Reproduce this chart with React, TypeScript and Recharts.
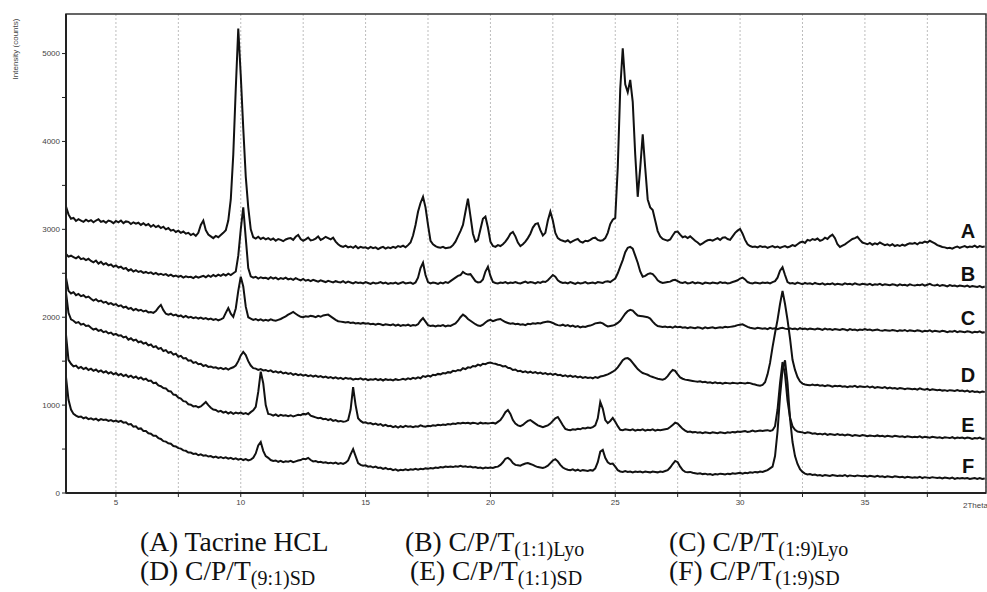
import React from 'react';
import { LineChart, Line, XAxis, YAxis, CartesianGrid, ReferenceArea } from 'recharts';

// 2Theta sampling grid: 3.0 .. 39.8 step 0.1
const THETA_START = 3.0;
const THETA_STEP = 0.1;

const xTicks = [5, 7.5, 10, 12.5, 15, 17.5, 20, 22.5, 25, 27.5, 30, 32.5, 35, 37.5];
const yTicks = [0, 500, 1000, 1500, 2000, 2500, 3000, 3500, 4000, 4500, 5000];

const traceLabels = ['A', 'B', 'C', 'D', 'E', 'F'];

// (A) Tacrine HCL
const seriesA = [
  3260, 3170, 3120, 3130, 3095, 3115, 3100, 3085, 3110, 3090,
  3105, 3080, 3100, 3115, 3085, 3095, 3075, 3100, 3090, 3070,
  3095, 3080, 3100, 3070, 3090, 3085, 3060, 3080, 3065, 3075,
  3050, 3070, 3045, 3060, 3030, 3050, 3025, 3040, 3015, 3030,
  3000, 3015, 2985, 2995, 2970, 2985, 2960, 2975, 2950, 2960,
  2935, 2950, 2925, 2960, 3050, 3100, 2990, 2940, 2920, 2900,
  2925, 2910, 2935, 2960, 2990, 3100, 3340, 3850, 4600, 5285,
  4750, 4150, 3600, 3250, 3000, 2910, 2895, 2915, 2890, 2905,
  2885, 2900, 2880, 2895, 2870, 2890, 2880, 2865, 2885, 2895,
  2900, 2880, 2915, 2935, 2890, 2870, 2885, 2905, 2875, 2880,
  2895, 2920, 2880, 2895, 2915, 2900, 2885, 2905, 2860, 2830,
  2810, 2800, 2815, 2795, 2805, 2790, 2810, 2785, 2800, 2790,
  2795, 2780, 2800, 2785, 2795, 2775, 2790, 2800, 2780, 2795,
  2785, 2800, 2790, 2810, 2800, 2815, 2795, 2820, 2850, 2930,
  3050, 3200, 3300, 3370, 3250, 3050, 2870, 2830, 2810, 2795,
  2790, 2800, 2785, 2790, 2795, 2820, 2860, 2920, 2980, 3050,
  3200, 3350, 3150, 2950, 2860, 2880, 3000, 3120, 3145, 3020,
  2860, 2810, 2800, 2820, 2810, 2830, 2860, 2900, 2950, 2970,
  2920, 2850, 2810, 2830, 2860, 2900, 2950, 3020, 3060, 3070,
  2990, 2930, 2960, 3100, 3200, 3100, 2960, 2900, 2880, 2870,
  2860, 2875, 2850, 2865, 2880, 2890, 2860, 2850, 2870, 2865,
  2880, 2900, 2905, 2880, 2870, 2875, 2900, 2960, 3060, 3110,
  3130, 3700, 4600, 5060, 4650, 4560, 4700, 4450, 3850, 3370,
  3700, 4080, 3700, 3340, 3250, 3220, 3100, 2980, 2920, 2890,
  2880, 2870, 2885, 2930, 2970, 2975, 2940, 2910, 2920, 2900,
  2920, 2895, 2870, 2850, 2825, 2840, 2860, 2875, 2880, 2870,
  2885, 2900, 2880, 2905, 2910, 2890, 2880, 2920, 2960, 2985,
  3005, 2950, 2880, 2830, 2810, 2800, 2805, 2795, 2810, 2800,
  2805, 2790, 2800, 2810, 2795, 2805, 2790, 2800, 2810, 2795,
  2805, 2820, 2810, 2830, 2850, 2860, 2845, 2880, 2870, 2890,
  2880, 2895, 2870, 2880, 2905, 2890, 2920, 2940, 2900, 2830,
  2800, 2815, 2830, 2850, 2870, 2890, 2900, 2915, 2880, 2850,
  2840, 2830, 2845, 2825, 2840, 2830, 2850, 2835, 2820, 2830,
  2815, 2830, 2810, 2820, 2810, 2825, 2815, 2830, 2840, 2835,
  2845, 2830, 2850, 2845, 2860, 2850, 2870, 2855, 2840, 2820,
  2810, 2800, 2795, 2785, 2790, 2780, 2795, 2805, 2790, 2800,
  2810, 2795, 2805, 2800, 2815, 2795, 2810, 2800, 2805,
];

// (B) C/P/T (1:1) Lyo
const seriesB = [
  2720, 2690, 2700, 2685, 2670, 2690, 2660, 2670, 2650, 2665,
  2640, 2625, 2645, 2610, 2630, 2600, 2615, 2590, 2600, 2575,
  2590, 2565, 2575, 2550, 2560, 2530, 2545, 2520, 2535, 2515,
  2525, 2505, 2515, 2500, 2510, 2490, 2505, 2485, 2495, 2480,
  2490, 2470, 2485, 2465, 2475, 2460, 2470, 2450, 2465, 2455,
  2460, 2445, 2465, 2450, 2460, 2470, 2455, 2475, 2460, 2480,
  2465, 2485, 2470, 2490, 2475, 2495, 2480, 2500, 2520, 2700,
  3000, 3250, 2900, 2560, 2465, 2450, 2460, 2440, 2455, 2445,
  2450, 2435, 2455, 2440, 2450, 2430, 2445, 2435, 2450, 2430,
  2440, 2425, 2445, 2430, 2420, 2435, 2415, 2425, 2410, 2425,
  2415, 2405, 2420, 2410, 2400, 2415, 2405, 2395, 2410, 2400,
  2395, 2410, 2390, 2405, 2395, 2385, 2400, 2390, 2395, 2385,
  2400, 2390, 2380, 2395, 2385, 2390, 2400, 2385, 2395, 2380,
  2390, 2385, 2395, 2380, 2390, 2400, 2385, 2390, 2395, 2380,
  2395, 2450, 2560, 2620, 2480, 2400, 2385, 2395, 2390, 2380,
  2395, 2385, 2400, 2390, 2410, 2430, 2450, 2470, 2480, 2515,
  2495, 2485, 2490, 2450, 2410, 2395, 2400, 2430, 2520, 2575,
  2470, 2400, 2390, 2385, 2395, 2390, 2400, 2385, 2395, 2390,
  2400, 2390, 2385, 2395, 2405, 2390, 2400, 2395, 2385, 2400,
  2390, 2405, 2400, 2420, 2450, 2480, 2460, 2420, 2400, 2390,
  2395, 2385, 2400, 2390, 2380, 2395, 2385, 2390, 2400, 2385,
  2390, 2395, 2385, 2400, 2395, 2390, 2405, 2410, 2400, 2420,
  2440, 2500, 2575, 2650, 2740, 2790, 2800, 2780, 2700, 2620,
  2520, 2460, 2470, 2490, 2500, 2490, 2460, 2420, 2400, 2390,
  2395, 2400, 2405, 2420, 2425, 2410, 2395, 2390, 2400, 2385,
  2390, 2400, 2385, 2395, 2390, 2380, 2395, 2390, 2385, 2395,
  2390, 2385, 2400, 2390, 2395, 2385, 2390, 2400, 2410, 2420,
  2440, 2450, 2430, 2400, 2390, 2385, 2395, 2390, 2385, 2395,
  2390, 2395, 2385, 2400, 2410, 2450, 2530, 2570, 2480, 2400,
  2385, 2390, 2380, 2395, 2385, 2375, 2390, 2380, 2385, 2375,
  2390, 2380, 2375, 2385, 2370, 2380, 2375, 2385, 2370, 2380,
  2375, 2370, 2385, 2375, 2380, 2370, 2385, 2375, 2370, 2380,
  2375, 2370, 2380, 2365, 2375, 2370, 2380, 2365, 2375, 2370,
  2365, 2375, 2370, 2360, 2375, 2365, 2370, 2360, 2375, 2365,
  2360, 2370, 2365, 2375, 2360, 2370, 2380, 2365, 2360, 2370,
  2355, 2365, 2360, 2350, 2365, 2355, 2360, 2350, 2360, 2355,
  2350, 2360, 2345, 2355, 2350, 2345, 2355, 2340, 2350,
];

// (C) C/P/T (1:9) Lyo
const seriesC = [
  2450, 2300, 2270, 2285, 2250, 2265, 2240, 2250, 2225, 2235,
  2210, 2190, 2205, 2180, 2190, 2165, 2175, 2150, 2160, 2140,
  2150, 2125, 2135, 2110, 2120, 2095, 2105, 2080, 2095, 2075,
  2085, 2065, 2075, 2055, 2060, 2050, 2070, 2110, 2140, 2080,
  2040, 2030, 2040, 2020, 2030, 2010, 2020, 2000, 2015, 1995,
  2005, 1990, 2000, 1985, 1995, 1980, 1990, 1975, 1985, 1970,
  1980, 1965, 1975, 1990, 2050, 2105, 2040, 2005, 2100, 2300,
  2460, 2350, 2120, 2000, 1985, 1970, 1980, 1965, 1975, 1960,
  1970, 1960, 1975, 1965, 1960, 1970, 1980, 1995, 2010, 2030,
  2045, 2060, 2040, 2020, 2005, 2000, 2010, 2005, 2015, 2010,
  2000, 2015, 2005, 2020, 2025, 2030, 2010, 1990, 1970, 1955,
  1950, 1945, 1940, 1945, 1935, 1940, 1930, 1935, 1925, 1935,
  1925, 1930, 1920, 1925, 1915, 1925, 1920, 1910, 1920, 1915,
  1910, 1920, 1905, 1915, 1900, 1910, 1905, 1915, 1900, 1910,
  1905, 1920, 1960, 1990, 1950, 1910, 1900, 1905, 1895, 1905,
  1900, 1910, 1895, 1905, 1900, 1915, 1930, 1960, 2000, 2030,
  2010, 1980, 1960, 1940, 1920, 1905, 1900, 1915, 1940, 1960,
  1970, 1955, 1965, 1975, 1980, 1960, 1945, 1935, 1925, 1930,
  1920, 1925, 1915, 1920, 1910, 1925, 1920, 1930, 1925, 1935,
  1930, 1940, 1945, 1950, 1945, 1935, 1920, 1910, 1905, 1915,
  1900, 1910, 1895, 1905, 1890, 1900, 1885, 1895, 1890, 1900,
  1905, 1915, 1930, 1935, 1940, 1930, 1910, 1895, 1900, 1905,
  1915, 1935, 1960, 2000, 2040, 2070, 2085, 2075, 2045, 2020,
  2015, 2010, 2005, 2000, 1985, 1950, 1920, 1900, 1895, 1890,
  1895, 1885, 1890, 1880, 1895, 1885, 1890, 1880, 1885, 1875,
  1885, 1880, 1875, 1885, 1880, 1870, 1885, 1875, 1880, 1885,
  1875, 1880, 1885, 1880, 1890, 1885, 1890, 1895, 1900, 1910,
  1915, 1920, 1905, 1890, 1880, 1875, 1870, 1880, 1875, 1870,
  1875, 1865, 1880, 1870, 1875, 1865, 1875, 1880, 1870, 1865,
  1875, 1865, 1870, 1860, 1875, 1865, 1870, 1860, 1870, 1865,
  1860, 1870, 1865, 1855, 1870, 1860, 1865, 1855, 1865, 1860,
  1855, 1865, 1860, 1850, 1865, 1855, 1860, 1850, 1860, 1855,
  1865, 1855, 1860, 1850, 1855, 1860, 1850, 1845, 1855, 1850,
  1845, 1855, 1850, 1840, 1850, 1845, 1855, 1840, 1850, 1845,
  1840, 1850, 1845, 1835, 1845, 1840, 1850, 1835, 1845, 1840,
  1835, 1845, 1840, 1830, 1840, 1835, 1845, 1830, 1840, 1835,
  1830, 1840, 1835, 1825, 1835, 1830, 1840, 1825, 1830,
];

// (D) C/P/T (9:1) SD
const seriesD = [
  2280, 2050, 1975, 1960, 1935, 1945, 1915, 1925, 1900, 1905,
  1880, 1860, 1870, 1845, 1855, 1830, 1840, 1815, 1825, 1800,
  1810, 1790, 1795, 1770, 1780, 1745, 1760, 1735, 1745, 1715,
  1725, 1700, 1710, 1680, 1690, 1660, 1670, 1640, 1650, 1615,
  1625, 1595, 1605, 1575, 1585, 1550, 1560, 1530, 1535, 1505,
  1510, 1480, 1490, 1465, 1470, 1445, 1455, 1435, 1440, 1425,
  1430, 1415, 1425, 1410, 1420, 1405, 1420, 1430, 1450, 1500,
  1565, 1605, 1570, 1500, 1450, 1420, 1415, 1400, 1410, 1395,
  1400, 1385, 1395, 1375, 1385, 1370, 1380, 1360, 1370, 1355,
  1365, 1345, 1355, 1340, 1350, 1335, 1345, 1330, 1340, 1325,
  1335, 1320, 1330, 1315, 1325, 1310, 1320, 1305, 1315, 1300,
  1310, 1295, 1310, 1300, 1305, 1290, 1300, 1295, 1305, 1290,
  1300, 1285, 1295, 1290, 1300, 1285, 1295, 1280, 1295, 1285,
  1290, 1280, 1295, 1285, 1290, 1300, 1290, 1305, 1295, 1310,
  1300, 1315, 1305, 1330, 1320, 1335, 1325, 1345, 1340, 1355,
  1350, 1365, 1360, 1375, 1370, 1390, 1385, 1400, 1395, 1420,
  1410, 1430, 1425, 1445, 1440, 1460, 1450, 1470, 1465, 1480,
  1485, 1475, 1470, 1460, 1455, 1440, 1445, 1425, 1420, 1400,
  1405, 1385, 1390, 1375, 1385, 1370, 1380, 1365, 1375, 1360,
  1370, 1355, 1365, 1350, 1360, 1345, 1355, 1340, 1345, 1330,
  1340, 1325, 1335, 1320, 1330, 1315, 1325, 1310, 1320, 1310,
  1315, 1305, 1320, 1310, 1325, 1330, 1340, 1350, 1365, 1380,
  1400, 1430, 1470, 1510, 1530, 1535, 1515, 1480, 1445, 1410,
  1385, 1365, 1355, 1345, 1330, 1320, 1310, 1300, 1295, 1290,
  1300, 1330, 1370, 1400, 1390, 1350, 1315, 1300, 1290, 1285,
  1280, 1275, 1270, 1265, 1270, 1260, 1265, 1255, 1260, 1250,
  1260, 1250, 1255, 1245, 1255, 1250, 1245, 1255, 1250, 1245,
  1255, 1250, 1245, 1255, 1250, 1240, 1235, 1225, 1220, 1230,
  1260, 1350, 1480, 1660, 1820, 1970, 2150, 2300, 2150, 1970,
  1760, 1515, 1400, 1320, 1270, 1245, 1235, 1230, 1225, 1235,
  1225, 1230, 1220, 1225, 1215, 1225, 1220, 1210, 1220, 1215,
  1220, 1210, 1215, 1205, 1215, 1210, 1220, 1205, 1215, 1210,
  1205, 1215, 1200, 1210, 1195, 1205, 1200, 1195, 1205, 1190,
  1200, 1190, 1195, 1185, 1195, 1190, 1180, 1190, 1185, 1180,
  1185, 1175, 1190, 1180, 1175, 1185, 1170, 1180, 1175, 1170,
  1175, 1165, 1170, 1160, 1170, 1165, 1160, 1170, 1160, 1165,
  1155, 1165, 1150, 1160, 1150, 1155, 1145, 1155, 1150,
];

// (E) C/P/T (1:1) SD
const seriesE = [
  1800, 1515, 1470, 1440, 1450, 1420, 1435, 1410, 1425, 1400,
  1415, 1390, 1405, 1380, 1395, 1370, 1385, 1360, 1375, 1350,
  1365, 1340, 1355, 1330, 1345, 1320, 1335, 1310, 1325, 1300,
  1315, 1290, 1300, 1275, 1280, 1250, 1255, 1225, 1215, 1195,
  1190, 1160, 1155, 1120, 1115, 1085, 1075, 1045, 1040, 1010,
  1005, 985, 990, 975, 985, 1010, 1035, 1000, 970, 950,
  945, 925, 935, 915, 925, 905, 920, 900, 915, 905,
  915, 900, 910, 895, 920, 940, 980, 1150, 1380, 1250,
  1000, 900, 895, 880, 895, 875, 890, 880, 885, 875,
  885, 870, 880, 890, 885, 900, 895, 910, 880, 870,
  860, 850, 855, 840, 845, 830, 840, 820, 830, 815,
  820, 810, 815, 830, 950, 1205, 1000, 850, 820, 800,
  805, 790, 795, 780, 790, 775, 785, 765, 775, 760,
  765, 750, 760, 745, 760, 750, 765, 755, 760, 750,
  760, 755, 770, 760, 755, 765, 760, 770, 765, 775,
  770, 780, 775, 785, 780, 790, 785, 795, 790, 800,
  795, 800, 790, 800, 795, 785, 800, 790, 795, 790,
  795, 800, 790, 810, 830, 870, 920, 945, 900, 830,
  790, 770, 760, 775, 800, 820, 830, 810, 790, 770,
  760, 750, 760, 770, 790, 820, 850, 865, 820, 770,
  730, 720, 715, 725, 720, 730, 725, 740, 735, 745,
  740, 750, 770, 850, 1035, 960, 830, 795, 820, 855,
  810, 760, 720, 715, 725, 720, 715, 725, 710, 720,
  715, 725, 710, 720, 715, 725, 710, 720, 715, 720,
  725, 730, 750, 775, 800, 790, 760, 730, 710, 695,
  700, 690, 695, 685, 690, 680, 690, 685, 680, 690,
  685, 680, 690, 685, 680, 690, 685, 695, 690, 700,
  695, 700, 705, 695, 700, 710, 700, 705, 710, 705,
  710, 715, 705, 715, 760, 950, 1250, 1490, 1350, 1050,
  860, 760, 720, 700, 695, 690, 680, 690, 685, 675,
  680, 670, 675, 665, 675, 660, 670, 665, 660, 670,
  660, 665, 655, 665, 660, 650, 660, 655, 650, 660,
  655, 645, 655, 650, 645, 655, 645, 650, 640, 650,
  645, 640, 650, 645, 640, 645, 635, 645, 640, 635,
  640, 635, 645, 630, 640, 635, 630, 640, 635, 630,
  635, 625, 635, 630, 625, 635, 620, 630, 625, 630,
  620, 630, 625, 615, 625, 620, 630, 615, 620,
];

// (F) C/P/T (1:9) SD
const seriesF = [
  1320, 1060, 950, 900, 880, 865, 870, 850, 860, 840,
  850, 835, 845, 825, 840, 830, 835, 820, 830, 815,
  825, 810, 820, 800, 805, 780, 785, 755, 760, 730,
  735, 705, 705, 680, 675, 650, 650, 625, 615, 590,
  585, 565, 560, 535, 530, 510, 505, 485, 480, 460,
  460, 445, 450, 430, 440, 425, 430, 415, 420, 405,
  415, 400, 410, 395, 405, 390, 400, 385, 395, 380,
  390, 375, 385, 370, 380, 400, 450, 540, 580, 480,
  420, 400, 375, 365, 370, 355, 365, 350, 360, 355,
  365, 350, 360, 370, 375, 390, 385, 400, 375, 360,
  365, 350, 355, 345, 350, 340, 345, 335, 345, 330,
  340, 330, 345, 370, 440, 500, 420, 340, 320, 310,
  315, 300, 305, 290, 300, 285, 290, 275, 285, 270,
  275, 260, 270, 255, 265, 260, 270, 260, 270, 265,
  275, 265, 275, 270, 280, 275, 285, 280, 290, 285,
  295, 290, 300, 295, 300, 295, 305, 300, 310, 300,
  305, 295, 300, 290, 295, 285, 290, 280, 290, 285,
  290, 285, 295, 300, 320, 350, 390, 400, 380, 340,
  320, 315, 310, 325, 335, 340, 330, 320, 305, 295,
  290, 285, 295, 310, 340, 370, 385, 360, 320, 290,
  275, 265, 260, 270, 255, 265, 250, 260, 255, 250,
  260, 255, 280, 350, 470, 490, 400, 350, 330, 335,
  300, 260, 245, 240, 250, 240, 245, 235, 245, 240,
  245, 235, 245, 240, 235, 245, 240, 235, 245, 240,
  250, 260, 290, 330, 365, 350, 300, 260, 240, 235,
  240, 230, 225, 220, 225, 215, 220, 210, 215, 205,
  215, 210, 220, 215, 210, 220, 215, 225, 220, 225,
  230, 220, 230, 225, 235, 230, 240, 235, 245, 240,
  250, 260, 280, 300, 420, 700, 1100, 1400, 1510, 1250,
  850, 580, 420, 330, 270, 240, 220, 210, 215, 205,
  210, 200, 205, 195, 205, 200, 195, 205, 200, 195,
  200, 195, 205, 190, 200, 195, 190, 200, 195, 190,
  195, 185, 195, 190, 185, 195, 185, 190, 180, 190,
  185, 180, 190, 185, 180, 185, 175, 185, 180, 175,
  180, 175, 185, 170, 180, 175, 170, 180, 175, 170,
  175, 165, 175, 170, 165, 175, 160, 170, 165, 170,
  165, 170, 160, 165, 170, 160, 170, 160, 165,
];

const seriesValues = [seriesA, seriesB, seriesC, seriesD, seriesE, seriesF];

const data = seriesA.map((_, i) => {
  const row: Record<string, number> = { theta: +(THETA_START + i * THETA_STEP).toFixed(1) };
  traceLabels.forEach((k, s) => {
    row[k] = seriesValues[s][i];
  });
  return row;
});

const letterPos: Record<string, number> = { A: 231, B: 274, C: 318, D: 375, E: 425, F: 466 };

const tickStyle = { fontSize: 8, fill: '#444', fontFamily: 'Liberation Sans, Arial, sans-serif' };

const serif = 'Liberation Serif, Times New Roman, serif';

export default function App() {
  return (
    <div style={{ position: 'absolute', left: 0, top: 0, width: 987, height: 592, overflow: 'hidden', background: '#fff' }}>
      <LineChart
        width={987}
        height={592}
        data={data}
        margin={{ top: 14, right: 1, bottom: 79, left: 0 }}
      >
        <CartesianGrid horizontal={false} stroke="#bdbdbd" strokeDasharray="2 2" />
        <XAxis
          dataKey="theta"
          type="number"
          domain={[3, 39.85]}
          ticks={xTicks}
          interval={0}
          allowDataOverflow
          height={20}
          tickSize={4}
          tick={tickStyle}
          tickFormatter={(v: number) => (v % 5 === 0 ? String(v) : '')}
          axisLine={{ stroke: '#222', strokeWidth: 2 }}
          tickLine={{ stroke: '#222' }}
        />
        <YAxis
          type="number"
          domain={[0, 5450]}
          ticks={yTicks}
          interval={0}
          allowDataOverflow
          width={66}
          tickSize={4}
          tick={tickStyle}
          tickFormatter={(v: number) => (v % 1000 === 0 ? String(v) : '')}
          axisLine={{ stroke: '#222', strokeWidth: 2 }}
          tickLine={{ stroke: '#222' }}
        />
        <ReferenceArea x1={3} x2={39.85} y1={0} y2={5450} fill="none" stroke="#333" strokeWidth={1.5} />
        {traceLabels.map((k) => (
          <Line
            key={k}
            dataKey={k}
            type="linear"
            stroke="#111"
            strokeWidth={2}
            dot={false}
            isAnimationActive={false}
          />
        ))}
      </LineChart>
      <svg width={987} height={592} style={{ position: 'absolute', left: 0, top: 0, pointerEvents: 'none' }}>
        <text
          transform="translate(18,49) rotate(-90)"
          textAnchor="middle"
          fontSize={8}
          fill="#444"
          fontFamily="Liberation Sans, Arial, sans-serif"
        >
          Intensity (counts)
        </text>
        <text x={963} y={508} fontSize={8} fill="#444" fontFamily="Liberation Sans, Arial, sans-serif">
          2Theta (°)
        </text>
        {traceLabels.map((k) => (
          <text
            key={k}
            x={968}
            y={letterPos[k] + 7}
            textAnchor="middle"
            fontSize={20}
            fontWeight="bold"
            fill="#111"
            fontFamily="Liberation Sans, Arial, sans-serif"
          >
            {k}
          </text>
        ))}
        <g fontFamily={serif} fontSize={27.5} fill="#111">
          <text x={140} y={551}>(A) Tacrine HCL</text>
          <text x={405} y={551}>
            (B) C/P/T<tspan fontSize={20} dy={5}>(1:1)Lyo</tspan>
          </text>
          <text x={669} y={551}>
            (C) C/P/T<tspan fontSize={20} dy={5}>(1:9)Lyo</tspan>
          </text>
          <text x={140} y={580}>
            (D) C/P/T<tspan fontSize={20} dy={5}>(9:1)SD</tspan>
          </text>
          <text x={410} y={580}>
            (E) C/P/T<tspan fontSize={20} dy={5}>(1:1)SD</tspan>
          </text>
          <text x={669} y={580}>
            (F) C/P/T<tspan fontSize={20} dy={5}>(1:9)SD</tspan>
          </text>
        </g>
      </svg>
    </div>
  );
}
